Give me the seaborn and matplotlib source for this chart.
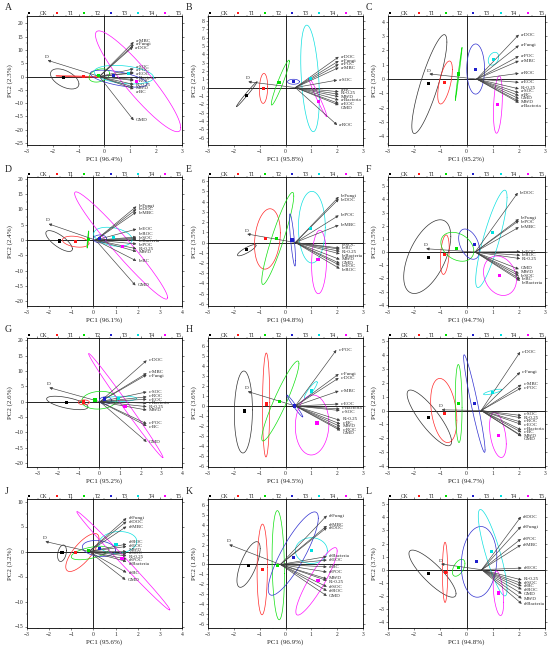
import numpy as np
import pandas as pd
import matplotlib
matplotlib.use("Agg")
import matplotlib.pyplot as plt
import seaborn as sns
from matplotlib.ticker import MultipleLocator, AutoMinorLocator

PANELS = list("ABCDEFGHIJKL")
PREFIX = ["a", "a", "a", "b", "b", "b", "c", "c", "c", "d", "d", "d"]
PC1_PCT = [96.4, 95.8, 95.2, 96.1, 94.8, 94.7, 95.2, 94.5, 94.7, 95.6, 96.9, 94.8]
PC2_PCT = [2.3, 2.9, 3.0, 2.4, 3.5, 3.5, 2.6, 3.6, 2.8, 3.2, 1.8, 3.7]
X_LIMS = [(-3, 3), (-3, 3), (-3, 3), (-3, 4), (-3, 3), (-3, 3),
          (-3.5, 4), (-3, 3), (-3, 3), (-3, 4), (-3, 3), (-3, 3)]
Y_LIMS = [(-25.8, 22.8), (-6.9, 8.6), (-4.6, 4.4), (-21.5, 20.6), (-6.2, 6.4), (-4.1, 5.7),
          (-21.3, 20.8), (-6.1, 6.8), (-4.05, 5.2), (-15.3, 10.5), (-6.4, 6.6), (-4.45, 5.4)]
Y_STEP = [5, 1, 1, 5, 1, 1, 5, 1, 1, 5, 1, 1]

GROUPS = ["CK", "T1", "T2", "T3", "T4", "T5"]
GROUP_COLORS = ["black", "#ff1a1a", "#00e000", "#2020cc", "#00e0e0", "#ff00ff"]
ELLIPSE_COLORS = ["#333333", "#ff2a2a", "#10e010", "#3030d0", "#10e0e0", "#ff10ff"]

VARIABLES = ["DOC", "Fungi", "POC", "MBC", "SOC", "ROC", "EOC", "BC", "Bacteria",
             "R>0.25", "MWD", "GMD", "D"]
N_PREFIXED = 9

ARROW_ORIGIN = [(-0.2, 0), (0.38, 0), (0.39, 0), (0.1, 0), (0.38, 0), (0.33, 0),
                (0.03, 0), (0.38, 0), (0.56, 0), (-0.2, 0), (-0.2, 0), (0.58, 0)]

# tips in VARIABLES order
ARROW_TIPS = [
    [(1.1, 11.2), (1.13, 12.0), (1.13, 1.6), (1.13, 13.0), (1.13, 2.9), (1.13, -1.5), (1.13, 1.3),
     (1.13, -4.7), (1.13, -1.1), (1.13, -3.0), (1.13, -4.0), (1.13, -16.5), (-2.2, 6.1)],
    [(2.06, 3.7), (2.06, 3.2), (2.06, 2.8), (2.06, 2.4), (2.0, 0.9), (2.0, -4.5), (2.06, -1.9),
     (2.06, -0.5), (2.06, -1.5), (2.06, -0.8), (2.06, -1.1), (2.06, -2.1), (-1.44, 0.7)],
    [(2.0, 3.1), (2.0, 2.35), (2.0, 1.6), (2.0, 1.27), (2.0, -0.95), (2.0, 0.4), (2.0, -0.23),
     (2.0, -1.15), (2.0, -1.65), (2.0, -0.68), (2.0, -1.55), (2.0, -1.36), (-1.42, 0.36)],
    [(1.94, 10.1), (1.94, 11.0), (1.94, -1.25), (1.94, 9.2), (1.94, 0.6), (1.94, 1.0), (1.94, 3.6),
     (1.94, -6.8), (1.94, 0.2), (1.94, -2.8), (1.94, -3.7), (1.9, -14.8), (-2.02, 5.3)],
    [(2.06, 4.24), (2.06, 4.46), (2.06, 2.65), (2.06, 1.7), (2.1, -0.54), (2.1, -2.55), (2.1, -2.23),
     (2.1, -0.65), (2.1, -1.1), (2.1, -0.86), (2.1, -1.65), (2.1, -2.04), (-1.48, 0.83)],
    [(1.96, 4.5), (2.0, 2.5), (2.0, 2.38), (2.0, 1.88), (2.0, -1.8), (2.05, -0.25), (2.05, 0.03),
     (2.05, -2.05), (2.05, -2.18), (2.05, -0.5), (2.0, -1.63), (2.0, -1.3), (-1.54, 0.25)],
    [(2.29, 13.5), (2.29, 8.8), (2.29, -7.2), (2.29, 9.3), (2.29, 3.2), (2.29, 1.6), (2.29, 0.8),
     (2.29, -7.9), (2.29, -0.45), (2.29, -1.6), (2.29, -2.7), (2.29, -13.1), (-2.42, 4.6)],
    [(2.06, 2.8), (2.06, 3.2), (1.97, 5.6), (2.06, 1.5), (2.1, -0.45), (2.12, -2.3), (2.06, 0.2),
     (2.12, -1.8), (2.1, -0.3), (2.12, -1.45), (2.12, -2.05), (2.12, -2.45), (-1.46, 1.45)],
    [(2.05, 4.2), (2.05, 2.75), (2.1, 1.63), (2.1, 1.85), (2.1, -0.36), (2.1, -0.84), (2.1, -1.0),
     (2.1, -1.56), (2.1, -1.4), (2.1, -0.53), (2.1, -1.8), (2.1, -1.85), (-0.95, 0.05)],
    [(1.49, 6.0), (1.49, 6.67), (1.49, -1.53), (1.49, 5.0), (1.49, -0.47), (1.49, 1.47), (1.49, 1.0),
     (1.49, -4.2), (1.49, -2.0), (1.49, -0.87), (1.49, 0.0), (1.45, -5.67), (-2.17, 2.0)],
    [(1.6, 3.72), (1.6, 4.93), (1.6, -0.76), (1.6, 3.9), (1.6, -2.24), (1.6, -2.65), (1.6, 0.45),
     (1.6, -0.24), (1.6, 0.8), (1.6, -1.62), (1.6, -1.45), (1.6, -3.17), (-2.18, 2.0)],
    [(2.08, 4.05), (2.08, 3.3), (2.08, 2.35), (2.08, 1.9), (2.11, -1.04), (2.11, -1.5), (2.11, 0.13),
     (2.11, -1.25), (2.11, -2.6), (2.11, -0.78), (2.11, -2.2), (2.11, -1.83), (-0.97, 0.44)],
]

# group mean scores, order CK..T5
GROUP_POINTS = [
    [(-1.57, -0.5), (-0.8, 0), (-0.22, 0.4), (0.34, 0.4), (0.94, 1.3), (1.25, -2.0)],
    [(-1.5, -0.9), (-0.85, -0.1), (-0.25, 0.6), (0.31, 0.7), (0.96, 1.1), (1.28, -1.7)],
    [(-1.45, -0.3), (-0.85, -0.23), (-0.3, 0.35), (0.33, 0.68), (1.03, 1.36), (1.2, -1.8)],
    [(-1.52, -0.3), (-0.81, -0.34), (-0.21, 0.2), (0.29, 0.55), (0.92, 1.0), (1.3, -2.0)],
    [(-1.5, -0.7), (-0.79, 0.35), (-0.34, 0.35), (0.25, 0.25), (0.98, 1.37), (1.26, -1.65)],
    [(-1.45, -0.42), (-0.84, -0.18), (-0.37, 0.25), (0.29, 0.57), (0.99, 1.45), (1.25, -1.75)],
    [(-1.58, -0.2), (-0.77, -0.1), (-0.21, 0.56), (0.27, 0.9), (0.92, 1.0), (1.24, -1.56)],
    [(-1.6, -0.5), (-0.75, 0.2), (-0.23, 0.46), (0.36, 0.0), (1.0, 1.5), (1.22, -1.7)],
    [(-1.45, -0.53), (-0.84, -0.24), (-0.3, 0.48), (0.29, 0.53), (0.99, 1.32), (1.22, -1.8)],
    [(-1.42, -0.2), (-0.81, -0.2), (-0.24, 0.13), (0.27, 0.53), (1.02, 1.47), (1.29, -1.33)],
    [(-1.44, -0.07), (-0.9, -0.52), (-0.31, -0.07), (0.31, 0.72), (1.0, 1.41), (1.26, -1.62)],
    [(-1.45, -0.31), (-0.81, -0.2), (-0.3, 0.15), (0.37, 0.65), (0.97, 1.36), (1.22, -1.78)],
]

# confidence ellipses: centre x, centre y, x half-range, y half-range, correlation
ELLIPSES = [
    [(-1.54, -0.9, 0.55, 3.8, -0.5), (-1.0, 0.0, 0.88, 0.3, -0.8), (-0.2, 0.4, 0.4, 2.5, 0.3),
     (0.55, -0.8, 1.1, 3.2, -0.6), (0.75, 0.7, 1.15, 3.5, -0.3), (1.3, -1.8, 1.65, 19.0, -0.92)],
    [(-1.5, -0.8, 0.4, 1.5, 0.99), (-0.85, -0.1, 0.16, 1.8, 0.1), (-0.2, 0.6, 0.35, 2.7, 0.95),
     (0.31, 0.7, 0.23, 0.3, 0.0), (0.95, 1.1, 0.36, 6.4, -0.35), (1.25, -1.15, 0.35, 2.35, -0.98)],
    [(-1.42, -0.35, 0.67, 3.45, 0.85), (-0.82, -0.24, 0.28, 1.5, 0.6), (-0.3, 0.35, 0.13, 1.85, 0.99),
     (0.35, 0.7, 0.34, 1.75, 0.0), (1.03, 1.42, 0.2, 0.45, 0.3), (1.2, -1.78, 0.17, 2.0, 0.3)],
    [(-1.55, -0.3, 0.6, 3.4, -0.75), (-0.8, -0.5, 0.6, 1.8, -0.3), (-0.25, 0.2, 0.04, 2.8, 0.9),
     (0.3, 0.4, 0.3, 1.3, 0.0), (0.88, 1.1, 0.87, 3.1, -0.3), (1.25, -1.75, 2.1, 17.5, -0.97)],
    [(-1.5, -0.75, 0.36, 0.55, 0.85), (-0.7, 0.35, 0.5, 2.95, 0.2), (-0.3, 0.4, 0.62, 4.5, 0.92),
     (0.27, 0.25, 0.12, 2.55, -0.8), (1.02, 1.5, 0.52, 3.5, 0.0), (1.3, -1.9, 0.29, 3.1, 0.1)],
    [(-1.5, -0.35, 0.9, 2.8, 0.55), (-0.83, -0.2, 0.17, 1.5, 0.3), (-0.35, 0.4, 0.63, 1.1, -0.3),
     (0.1, 0.6, 0.4, 1.15, -0.4), (0.95, 1.0, 0.6, 3.7, 0.85), (1.28, -1.8, 0.63, 1.5, -0.2)],
    [(-1.55, -0.4, 1.0, 2.2, -0.6), (-0.75, -0.2, 0.27, 0.8, 0.0), (0.0, 0.5, 0.85, 2.9, 0.1),
     (0.3, 0.4, 0.3, 1.2, 0.0), (1.0, 0.9, 0.8, 0.9, 0.2), (1.28, -1.25, 1.8, 17.0, -0.995)],
    [(-1.63, -0.6, 0.35, 4.1, 0.05), (-0.75, 0.1, 0.14, 5.2, 0.05), (-0.2, 0.5, 0.72, 4.0, 0.93),
     (0.36, 0.0, 0.31, 1.1, -0.98), (0.98, 1.6, 0.25, 0.85, 0.9), (1.03, -1.9, 0.65, 3.0, 0.05)],
    [(-1.42, -0.53, 0.85, 2.0, -0.85), (-0.87, 0.0, 0.5, 2.3, -0.3), (-0.3, 0.5, 0.13, 2.8, -0.1),
     (0.3, 0.5, 0.41, 3.5, -0.95), (1.0, 1.33, 0.35, 0.2, 0.8), (1.2, -1.75, 0.32, 1.62, -0.4)],
    [(-1.42, -0.35, 0.2, 1.65, 0.3), (-0.5, -0.2, 0.75, 3.8, 0.75), (-0.15, -0.3, 0.85, 1.35, 0.55),
     (0.25, 0.6, 0.75, 1.6, -0.2), (1.1, 1.8, 0.86, 2.2, 0.1), (1.35, -1.85, 2.1, 9.85, -0.995)],
    [(-1.43, 0.0, 0.45, 2.3, 0.7), (-0.9, -0.5, 0.2, 4.57, 0.05), (-0.28, -0.07, 0.24, 5.5, -0.15),
     (0.3, 1.1, 0.97, 4.2, 0.85), (1.0, 1.4, 0.62, 1.3, 0.0), (1.2, -1.7, 0.8, 3.4, 0.9)],
    [(-1.3, -0.3, 0.9, 1.8, -0.85), (-0.82, -0.2, 0.1, 2.3, 0.0), (-0.3, 0.15, 0.24, 0.65, 0.5),
     (0.48, 0.6, 0.68, 2.7, 0.1), (1.0, 1.3, 0.55, 3.3, -0.85), (1.22, -1.8, 0.2, 1.7, -0.4)],
]

DPI = 100
FIG_W, FIG_H = 550, 651
COL_LEFT = [27, 208, 388]
COL_W = [155, 155, 157]
ROW_TOP = [16, 177, 338, 499]
ROW_H = 129


def spread_labels(ys, gap):
    order = np.argsort(-ys)
    pos = ys[order].astype(float).copy()
    for _ in range(200):
        moved = False
        for k in range(1, len(pos)):
            d = pos[k - 1] - pos[k]
            if d < gap:
                shift = (gap - d) / 2
                pos[k - 1] += shift
                pos[k] -= shift
                moved = True
        if not moved:
            break
    out = np.empty_like(pos)
    out[order] = pos
    return out


def draw_panel(ax, i):
    ax.set_xlim(*X_LIMS[i])
    ax.set_ylim(*Y_LIMS[i])
    ax.axhline(0, color="black", lw=0.6, zorder=1)
    ax.axvline(0, color="black", lw=0.6, zorder=1)

    t = np.linspace(0, 2 * np.pi, 300)
    for (cx, cy, rx, ry, rho), col in zip(ELLIPSES[i], ELLIPSE_COLORS):
        ex = cx + rx * np.cos(t)
        ey = cy + ry * (rho * np.cos(t) + np.sqrt(1 - rho ** 2) * np.sin(t))
        ax.plot(ex, ey, color=col, lw=0.5, zorder=2)

    ox, oy = ARROW_ORIGIN[i]
    tips = ARROW_TIPS[i]
    labels = [f"{PREFIX[i]}-{v}" if k < N_PREFIXED else v for k, v in enumerate(VARIABLES)]
    for (tx, ty) in tips:
        ax.annotate("", xy=(tx, ty), xytext=(ox, oy),
                    arrowprops=dict(arrowstyle="-|>", lw=0.45, color="0.25",
                                    mutation_scale=4, shrinkA=0, shrinkB=0),
                    zorder=3)

    # label column on the right, spread so the texts do not pile up
    right = [(lab, tip) for lab, tip in zip(labels, tips) if lab != "D"]
    disp = ax.transData.transform([tip for _, tip in right])
    new_y = spread_labels(disp[:, 1], 3.6)
    for (lab, tip), dy, d0 in zip(right, new_y, disp[:, 1]):
        ax.annotate(lab, xy=tip, xytext=(1.5, (dy - d0) * 72 / DPI),
                    textcoords="offset points", ha="left", va="center",
                    fontsize=3.6, zorder=4)
    dtip = tips[VARIABLES.index("D")]
    ax.annotate("D", xy=dtip, xytext=(-0.5, 1.0), textcoords="offset points",
                ha="center", va="bottom", fontsize=3.8, zorder=4)

    pts = pd.DataFrame({
        "PC1": [p[0] for p in GROUP_POINTS[i]],
        "PC2": [p[1] for p in GROUP_POINTS[i]],
        "Group": GROUPS,
    })
    sns.scatterplot(data=pts, x="PC1", y="PC2", hue="Group", hue_order=GROUPS,
                    palette=GROUP_COLORS, marker="s", s=5, linewidth=0,
                    ax=ax, zorder=5)
    handles, labs = ax.get_legend_handles_labels()
    ax.legend(handles, labs, ncol=6, loc="lower left", bbox_to_anchor=(0, 1.0, 1, 0.04),
              mode="expand", frameon=False, fontsize=4, handlelength=0.6,
              handletextpad=1.6, borderaxespad=0.05, borderpad=0, columnspacing=0,
              markerscale=0.8)

    ax.set_xlabel(f"PC1 ({PC1_PCT[i]}%)", fontsize=5, labelpad=2)
    ax.set_ylabel(f"PC2 ({PC2_PCT[i]}%)", fontsize=5, labelpad=1)
    ax.xaxis.set_major_locator(MultipleLocator(1))
    ax.yaxis.set_major_locator(MultipleLocator(Y_STEP[i]))
    ax.xaxis.set_minor_locator(AutoMinorLocator(2))
    ax.yaxis.set_minor_locator(AutoMinorLocator(2))
    ax.tick_params(which="major", labelsize=4, length=1.6, width=0.4, pad=1,
                   direction="out", top=True, right=True)
    ax.tick_params(which="minor", length=0.9, width=0.3, direction="out",
                   top=True, right=True)
    for sp in ax.spines.values():
        sp.set_linewidth(0.6)
        sp.set_color("black")


sns.set_theme(style="ticks")
plt.rcParams["font.family"] = ["Liberation Serif", "DejaVu Serif"]
plt.rcParams["axes.edgecolor"] = "black"

fig = plt.figure(figsize=(FIG_W / DPI, FIG_H / DPI), dpi=DPI)
for i, letter in enumerate(PANELS):
    r, c = divmod(i, 3)
    left = COL_LEFT[c] / FIG_W
    bottom = (FIG_H - ROW_TOP[r] - ROW_H) / FIG_H
    ax = fig.add_axes([left, bottom, COL_W[c] / FIG_W, ROW_H / FIG_H])
    draw_panel(ax, i)
    fig.text((COL_LEFT[c] - 22) / FIG_W, (FIG_H - ROW_TOP[r] + 8) / FIG_H, letter,
             fontsize=7, ha="left", va="center")

fig.savefig("out.png", dpi=DPI)
plt.close(fig)
